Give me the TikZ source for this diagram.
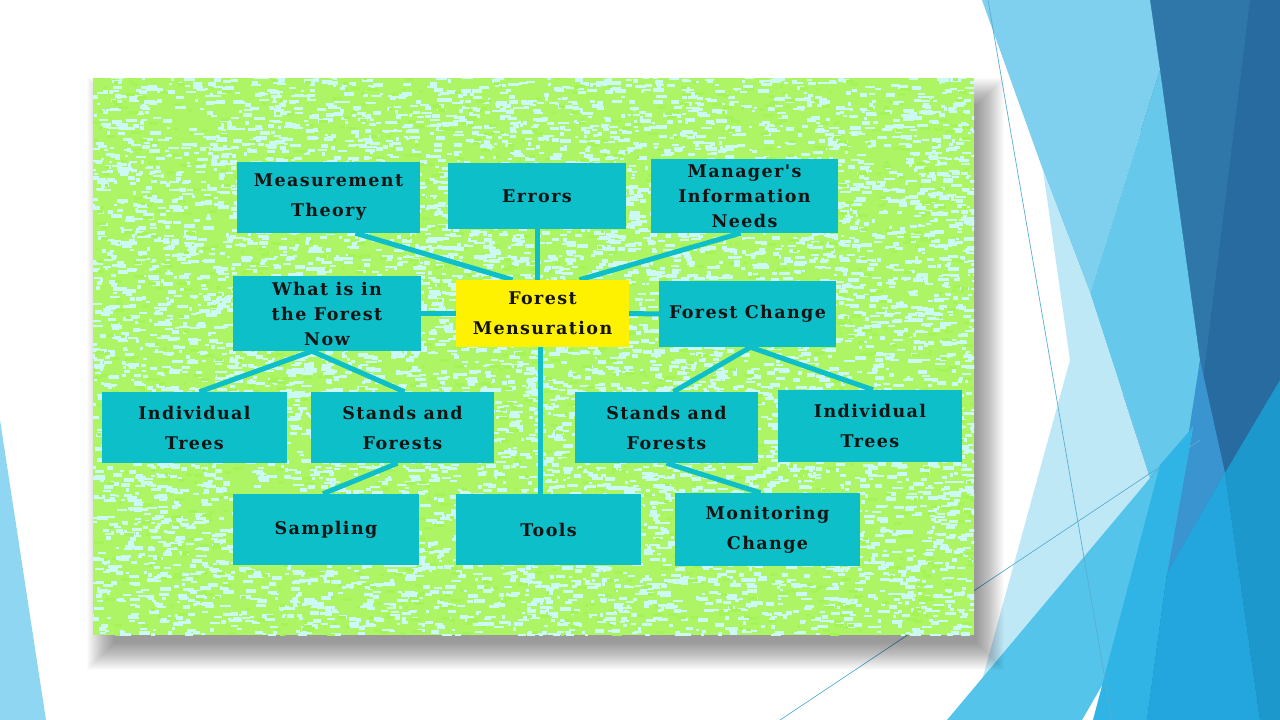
\documentclass[tikz,border=0pt]{standalone}
\usepackage{fontspec}
\newfontfamily\boxfont[LetterSpace=8]{DejaVu Serif}
\definecolor{boxteal}{HTML}{0CBFC8}
\definecolor{boxyellow}{HTML}{FFF200}
\definecolor{bggreen}{HTML}{AEF566}
\definecolor{speckcyan}{HTML}{CCF8F5}
\definecolor{speckgreen}{HTML}{A4F458}
\definecolor{facetA}{HTML}{7FCFEE}
\definecolor{facetM}{HTML}{66C8EB}
\definecolor{facetP}{HTML}{BFE8F7}
\definecolor{facetB}{HTML}{55C4EA}
\definecolor{facetD}{HTML}{2FB4E5}
\definecolor{facetRa}{HTML}{22A6DD}
\definecolor{facetRb}{HTML}{1D98CC}
\definecolor{facetS}{HTML}{3A94CF}
\definecolor{darkA}{HTML}{2F77A9}
\definecolor{darkB}{HTML}{276BA1}
\definecolor{sliver}{HTML}{8ED6F2}
\definecolor{thinline}{HTML}{5AAED0}
\pgfdeclarelayer{bg}
\pgfdeclarelayer{links}
\pgfsetlayers{bg,links,main}
\tikzset{
  box/.style n args={2}{rectangle, fill=boxteal, inner sep=0pt,
    minimum width=#1, minimum height=#2, align=center, text=black!92,
    font=\boxfont\bfseries\fontsize{17.5}{30}\selectfont},
  three/.style={font=\boxfont\bfseries\fontsize{17.5}{25}\selectfont},
  link/.style={draw=boxteal, line width=5pt},
  thin/.style={draw=thinline, line width=0.7pt}
}
\begin{document}
\begin{tikzpicture}[x=1pt,y=-1pt]
\useasboundingbox (0,0) rectangle (1280,720);
\begin{pgfonlayer}{bg}
\fill[white] (0,0) rectangle (1280,720);
% left sliver
\fill[sliver] (0,420) -- (46,720) -- (0,720) -- cycle;
% right facets
\fill[darkB] (1150,0) -- (1280,0) -- (1280,720) -- (1100,720) -- cycle;
\fill[darkA] (1150,0) -- (1250,0) -- (1203,380) -- cycle;
\fill[facetA] (982,0) -- (1150,0) -- (1160,70) -- (1090,293) -- (1043,170) -- cycle;
\fill[facetM] (1160,70) -- (1090,293) -- (1150,478) -- (1193,427) -- (1200,360) -- cycle;
\fill[facetS] (1200,360) -- (1225,473) -- (1167,573) -- cycle;
\fill[facetP] (1043,170) -- (1090,293) -- (1150,478) -- (973,713) -- (1070,360) -- cycle;
\draw[thin] (780,720) -- (1200,440);
\fill[facetB] (1193,427) -- (947,720) -- (1082,720) -- (1167,573) -- cycle;
\fill[facetD] (1160,465) -- (1193,427) -- (1167,573) -- (1147,720) -- (1093,720) -- cycle;
\fill[facetRa] (1225,473) -- (1167,573) -- (1147,720) -- (1260,720) -- cycle;
\fill[facetRb] (1280,380) -- (1225,473) -- (1260,720) -- (1280,720) -- cycle;
\draw[thin] (988,0) -- (1112,720);
% shadow
\foreach \k in {0,...,27}{
  \fill[black, opacity=0.016] (101-14+\k, 92-14+\k) rectangle (990+14-\k, 656+14-\k);
}
% picture background
\fill[bggreen] (93,78) rectangle (974,635);
\begin{scope}
\clip (93,78) rectangle (974,635);
\pgfmathsetseed{7}
\foreach \i in {1,...,8000}{
  \pgfmathrandominteger{\rx}{90}{972}
  \pgfmathrandominteger{\ry}{76}{634}
  \pgfmathrandominteger{\rw}{3}{11}
  \pgfmathrandominteger{\rh}{2}{4}
  \fill[speckcyan] (\rx,\ry) rectangle ++(\rw,\rh);
}
\foreach \i in {1,...,1500}{
  \pgfmathrandominteger{\rx}{90}{972}
  \pgfmathrandominteger{\ry}{76}{634}
  \pgfmathrandominteger{\rw}{3}{10}
  \fill[speckgreen] (\rx,\ry) rectangle ++(\rw,3);
}
\end{scope}
\end{pgfonlayer}

% boxes
\node[box={183pt}{71pt}] (mt) at (328.5,197.5) {Measurement\\Theory};
\node[box={178pt}{66pt}] (er) at (537,196) {Errors};
\node[box={187pt}{74pt},three] (mi) at (744.5,196) {Manager's\\Information\\Needs};
\node[box={188pt}{75pt},three] (wf) at (327,313.5) {What is in\\the Forest\\Now};
\node[box={173pt}{67pt},fill=boxyellow] (fm) at (542.5,313.5) {Forest\\Mensuration};
\node[box={177pt}{66pt}] (fc) at (747.5,314) {Forest Change};
\node[box={185pt}{71pt}] (it1) at (194.5,427.5) {Individual\\Trees};
\node[box={183pt}{71pt}] (sf1) at (402.5,427.5) {Stands and\\Forests};
\node[box={183pt}{71pt}] (sf2) at (666.5,427.5) {Stands and\\Forests};
\node[box={184pt}{72pt}] (it2) at (870,426) {Individual\\Trees};
\node[box={186pt}{71pt}] (sa) at (326,529.5) {Sampling};
\node[box={185pt}{71pt}] (to) at (548.5,529.5) {Tools};
\node[box={185pt}{73pt}] (mc) at (767.5,529.5) {Monitoring\\Change};

\begin{pgfonlayer}{links}
\draw[link] ([xshift=27pt]mt.south) -- ([xshift=-30pt]fm.north);
\draw[link] (er.south) -- (er.south |- fm.north);
\draw[link] ([xshift=-4pt]mi.south) -- ([xshift=37pt]fm.north);
\draw[link] (wf.east) -- (fm.west);
\draw[link] (fm.east) -- (fc.west);
\draw[link] ([xshift=-2pt]fm.south) -- ([xshift=-2pt]fm.south |- to.north);
\draw[link] ([xshift=-15pt]wf.south) -- ([xshift=5pt]it1.north);
\draw[link] ([xshift=-15pt]wf.south) -- ([xshift=2pt]sf1.north);
\draw[link] ([xshift=-5pt]sf1.south) -- ([xshift=-3pt]sa.north);
\draw[link] ([xshift=3pt]fc.south) -- ([xshift=7pt]sf2.north);
\draw[link] ([xshift=3pt]fc.south) -- ([xshift=3pt]it2.north);
\draw[link] (sf2.south) -- ([xshift=-7pt]mc.north);
\end{pgfonlayer}
\end{tikzpicture}
\end{document}
